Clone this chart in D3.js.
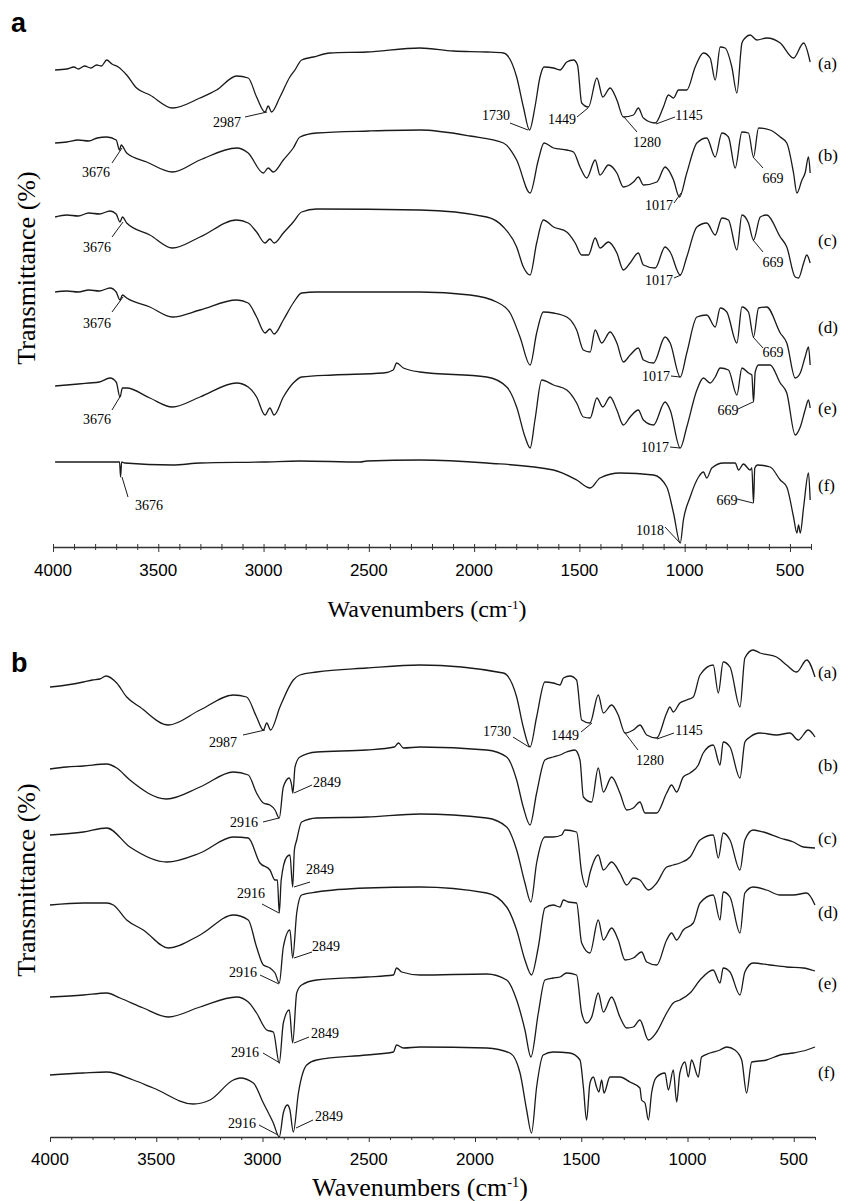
<!DOCTYPE html>
<html>
<head>
<meta charset="utf-8">
<script src="https://cdn.jsdelivr.net/npm/d3@7"></script>
<style>
  body { margin: 0; background: #fff; }
  svg { display: block; }
</style>
</head>
<body>
<script>
// FTIR spectra, two panels (a, b), six stacked traces each
var w = 845, h = 1201;

// tick labels of the wavenumber axis
var tickLabels = [4000, 3500, 3000, 2500, 2000, 1500, 1000, 500];
var seriesNames = ["(a)", "(b)", "(c)", "(d)", "(e)", "(f)"];

// panel a spectra: [wavenumber, transmittance (a.u., stacked)]
var specA_a = [[3990,480],[3935,481],[3900,483],[3880,481],[3850,484],[3820,482],[3793,485],[3770,484],[3745,490],[3720,486],[3690,483],[3650,475],[3603,462],[3540,455],[3433,442],[3302,452],[3223,460],[3128,474],[3073,472],[3033,453],[2993,438],[2978,444],[2962,438],[2922,453],[2875,473],[2851,480],[2819,490],[2764,493],[2685,497],[2511,498],[2257,502],[2099,499],[1940,498],[1861,497],[1798,473],[1766,443],[1737,420],[1711,443],[1687,473],[1668,483],[1623,482],[1592,480],[1560,488],[1528,490],[1509,485],[1489,447],[1457,443],[1417,472],[1389,453],[1354,462],[1322,450],[1291,433],[1243,435],[1220,442],[1196,432],[1140,427],[1101,443],[1077,455],[1053,452],[1029,460],[990,460],[950,483],[911,497],[879,492],[855,470],[831,503],[808,502],[776,483],[752,457],[728,507],[713,512],[689,515],[657,510],[610,512],[546,507],[483,492],[435,507],[404,488]];
var specA_b = [[3990,407],[3935,408],[3880,410],[3830,409],[3790,412],[3745,413],[3700,410],[3684,400],[3676,405],[3650,397],[3555,388],[3433,378],[3302,390],[3128,402],[3073,397],[3001,377],[2978,382],[2954,378],[2906,390],[2859,402],[2827,413],[2748,417],[2500,419],[2257,420],[2019,414],[1861,407],[1798,390],[1734,357],[1695,390],[1668,407],[1623,402],[1560,400],[1528,398],[1497,383],[1465,372],[1425,390],[1402,375],[1362,385],[1322,377],[1291,363],[1243,368],[1220,373],[1196,365],[1132,368],[1093,383],[1077,380],[1053,370],[1025,353],[990,377],[942,407],[895,412],[855,393],[823,417],[792,413],[760,382],[728,418],[697,417],[673,393],[649,422],[594,420],[546,413],[515,407],[483,377],[467,357],[443,370],[428,377],[412,393],[404,377]];
var specA_c = [[3990,333],[3935,335],[3880,334],[3830,337],[3780,336],[3729,339],[3700,336],[3682,328],[3670,333],[3650,327],[3540,315],[3433,302],[3302,313],[3128,330],[3073,327],[3033,318],[2993,307],[2970,311],[2950,307],[2906,317],[2859,328],[2819,338],[2748,341],[2257,340],[1940,333],[1861,323],[1798,303],[1766,283],[1734,275],[1703,307],[1671,330],[1623,323],[1560,318],[1520,307],[1489,295],[1457,295],[1425,312],[1402,302],[1362,308],[1322,297],[1291,280],[1259,287],[1220,297],[1196,285],[1140,282],[1093,303],[1069,298],[1021,275],[990,293],[942,323],[895,327],[855,315],[823,332],[792,330],[752,300],[728,335],[697,327],[673,310],[641,333],[610,335],[546,313],[515,303],[475,273],[459,272],[435,287],[420,295],[404,287]];
var specA_d = [[3990,258],[3935,259],[3880,258],[3830,260],[3780,259],[3729,262],[3700,258],[3682,250],[3670,255],[3650,252],[3540,243],[3433,233],[3302,240],[3128,250],[3073,247],[3033,233],[2993,217],[2970,221],[2950,216],[2906,230],[2859,247],[2819,257],[2748,258],[2257,258],[2019,255],[1893,248],[1829,237],[1782,213],[1734,185],[1703,217],[1671,238],[1623,237],[1560,233],[1513,220],[1481,200],[1449,198],[1425,220],[1394,207],[1354,218],[1322,207],[1291,188],[1259,195],[1220,202],[1196,190],[1148,187],[1093,213],[1069,207],[1021,173],[990,197],[942,233],[895,235],[855,223],[831,242],[800,238],[752,207],[728,243],[697,238],[673,213],[649,242],[610,243],[546,217],[515,207],[475,172],[451,177],[428,193],[412,203],[404,185]];
var specA_e = [[3990,164],[3935,165],[3880,166],[3830,167],[3780,168],[3729,172],[3700,168],[3682,153],[3670,162],[3650,162],[3540,152],[3433,143],[3302,153],[3128,167],[3073,163],[3033,153],[2993,135],[2970,142],[2950,135],[2906,153],[2859,167],[2819,173],[2668,175],[2431,177],[2384,180],[2368,187],[2336,182],[2257,178],[1940,173],[1845,163],[1798,143],[1758,113],[1734,102],[1711,130],[1679,170],[1623,165],[1560,160],[1513,147],[1481,133],[1449,132],[1417,152],[1389,143],[1354,153],[1322,140],[1291,125],[1259,133],[1220,140],[1196,130],[1148,125],[1093,148],[1069,140],[1021,102],[990,123],[942,160],[911,172],[879,167],[855,173],[831,182],[792,180],[752,155],[728,182],[697,177],[681,175],[673,148],[665,178],[649,185],[594,185],[546,167],[515,157],[475,115],[451,123],[428,140],[412,150],[404,142]];
var specA_f = [[3990,88],[3800,88],[3700,88],[3684,88],[3679,73],[3674,88],[3660,87],[3433,85],[3300,87],[3000,88],[2827,89],[2540,88],[2510,89],[2257,90],[1940,87],[1623,80],[1513,70],[1449,62],[1402,72],[1307,77],[1148,75],[1085,63],[1053,37],[1021,7],[1006,30],[974,53],[934,73],[911,78],[895,72],[871,82],[816,87],[760,87],[744,80],[721,86],[689,80],[681,82],[673,47],[667,82],[654,85],[594,83],[546,70],[515,63],[483,33],[467,17],[459,25],[451,17],[435,43],[412,77],[404,50]];

// panel b spectra
var specB_a = [[4000,453],[3922,455],[3843,458],[3800,460],[3765,461],[3736,464],[3686,457],[3639,443],[3577,433],[3443,415],[3294,430],[3137,445],[3075,443],[3028,423],[2996,410],[2980,417],[2962,410],[2918,433],[2855,460],[2824,465],[2745,468],[2510,472],[2259,475],[1867,467],[1804,443],[1773,413],[1741,393],[1710,423],[1671,458],[1632,457],[1600,455],[1584,462],[1553,464],[1522,460],[1498,420],[1459,417],[1420,445],[1396,427],[1357,435],[1326,425],[1294,407],[1255,410],[1224,415],[1192,405],[1145,402],[1098,427],[1083,433],[1067,428],[1036,437],[1004,440],[973,443],[941,465],[879,475],[855,447],[832,478],[800,473],[753,433],[730,482],[691,490],[659,487],[581,483],[534,475],[486,468],[439,480],[400,463]];
var specB_b = [[4000,371],[3922,373],[3843,374],[3733,376],[3686,372],[3624,360],[3451,341],[3294,353],[3137,368],[3067,365],[3028,347],[2996,337],[2965,335],[2941,330],[2921,322],[2902,353],[2874,362],[2863,355],[2857,347],[2847,373],[2824,383],[2745,388],[2510,390],[2380,393],[2360,397],[2337,392],[2259,393],[1945,390],[1851,383],[1804,360],[1773,333],[1741,315],[1710,347],[1671,380],[1632,383],[1600,385],[1569,388],[1530,390],[1506,380],[1490,343],[1451,338],[1420,372],[1396,348],[1357,363],[1318,347],[1286,330],[1255,332],[1224,338],[1200,327],[1145,327],[1098,347],[1075,355],[1051,348],[1020,363],[988,367],[949,375],[926,387],[879,395],[847,375],[832,398],[800,393],[753,362],[730,398],[706,403],[659,407],[581,405],[518,407],[479,400],[432,410],[400,403]];
var specB_c = [[4000,305],[3843,308],[3733,312],[3624,293],[3451,278],[3294,287],[3137,303],[3067,302],[3012,277],[2965,270],[2941,260],[2930,260],[2921,227],[2912,260],[2886,283],[2871,285],[2858,253],[2850,290],[2839,300],[2816,318],[2745,322],[2510,323],[2259,326],[1945,322],[1851,313],[1804,290],[1765,257],[1737,238],[1710,277],[1671,303],[1632,303],[1592,305],[1577,310],[1522,308],[1498,267],[1475,253],[1459,267],[1420,285],[1396,270],[1357,278],[1318,267],[1286,255],[1255,262],[1224,260],[1184,250],[1145,257],[1098,273],[1067,275],[1036,277],[988,283],[941,300],[879,305],[855,282],[832,307],[800,300],[753,270],[730,300],[691,310],[643,308],[565,302],[502,298],[455,293],[400,292]];
var specB_d = [[4000,235],[3843,237],[3733,237],[3702,235],[3639,220],[3561,210],[3443,192],[3294,205],[3137,225],[3067,220],[3028,193],[2996,175],[2965,172],[2941,167],[2921,157],[2902,193],[2871,210],[2858,182],[2839,227],[2816,245],[2745,248],[2510,252],[2259,253],[1945,247],[1851,233],[1804,210],[1765,180],[1734,165],[1702,193],[1671,232],[1632,235],[1600,233],[1584,240],[1561,238],[1522,237],[1498,197],[1459,187],[1420,220],[1396,200],[1357,212],[1326,200],[1294,180],[1255,182],[1216,188],[1192,178],[1145,175],[1098,200],[1075,207],[1051,200],[1020,210],[973,217],[941,237],[879,245],[847,220],[832,248],[800,243],[753,207],[730,247],[691,253],[628,250],[565,245],[502,245],[439,247],[400,235]];
var specB_e = [[4000,143],[3843,145],[3733,147],[3670,142],[3561,132],[3443,123],[3294,133],[3122,143],[3067,138],[3028,127],[2980,110],[2949,108],[2921,77],[2902,117],[2874,130],[2858,97],[2839,147],[2816,155],[2745,160],[2510,163],[2384,165],[2369,172],[2345,168],[2259,165],[1945,166],[1851,160],[1804,140],[1765,110],[1737,83],[1702,127],[1671,160],[1632,162],[1600,163],[1569,167],[1522,165],[1498,127],[1475,117],[1451,123],[1420,147],[1396,128],[1357,143],[1318,123],[1286,112],[1255,113],[1224,120],[1184,100],[1145,108],[1098,127],[1067,137],[1036,140],[988,147],[941,160],[879,170],[847,157],[832,172],[800,168],[753,145],[730,168],[691,177],[612,175],[534,173],[455,172],[400,169]];
var specB_f = [[4000,65],[3843,67],[3733,68],[3608,60],[3514,52],[3326,36],[3247,40],[3137,60],[3106,62],[3043,57],[2996,37],[2949,17],[2921,3],[2902,27],[2883,35],[2871,30],[2855,8],[2831,47],[2792,75],[2745,80],[2510,85],[2384,88],[2369,95],[2337,92],[2259,93],[1945,92],[1836,87],[1788,67],[1757,30],[1734,7],[1710,53],[1679,85],[1632,88],[1553,87],[1506,80],[1490,53],[1475,20],[1459,57],[1443,63],[1428,53],[1417,48],[1404,60],[1393,47],[1365,63],[1318,63],[1271,58],[1224,52],[1216,40],[1200,37],[1184,20],[1169,47],[1145,63],[1106,67],[1090,50],[1067,70],[1051,38],[1036,67],[1012,78],[996,63],[981,80],[949,63],[934,83],[894,87],[847,90],[816,93],[777,90],[745,80],[722,47],[698,78],[628,80],[565,85],[502,87],[439,90],[400,93]];

var panelASeries = [specA_a, specA_b, specA_c, specA_d, specA_e, specA_f];
var panelBSeries = [specB_a, specB_b, specB_c, specB_d, specB_e, specB_f];

// peak labels: text, leader line (px), text position (px)
var annotA = [
  {t:"2987", x:227, y:127, l:[245,117,267,112]},
  {t:"1730", x:496, y:120, l:[510,123,528,130]},
  {t:"1449", x:562, y:124, l:[577,117,588,108]},
  {t:"1280", x:647, y:147, l:[637,132,624,117]},
  {t:"1145", x:689, y:120, l:[675,117,656,124]},
  {t:"3676", x:96, y:177, l:[112,163,122,148]},
  {t:"1017", x:659, y:210, l:[674,203,681,193]},
  {t:"669", x:773, y:183, l:[763,168,753,157]},
  {t:"3676", x:97, y:252, l:[112,237,123,222]},
  {t:"1017", x:659, y:285, l:[674,278,681,275]},
  {t:"669", x:773, y:267, l:[763,252,753,240]},
  {t:"3676", x:97, y:328, l:[112,312,123,297]},
  {t:"1017", x:656, y:381, l:[671,376,680,377]},
  {t:"669", x:773, y:357, l:[763,348,753,337]},
  {t:"3676", x:97, y:424, l:[112,410,121,395]},
  {t:"1017", x:655, y:452, l:[670,447,680,448]},
  {t:"669", x:728, y:415, l:[738,409,753,402]},
  {t:"3676", x:149, y:510, l:[128,497,122,477]},
  {t:"669", x:727, y:505, l:[737,499,753,503]},
  {t:"1018", x:650, y:535, l:[665,527,680,543]}
];
var annotB = [
  {t:"2987", x:223, y:747, l:[243,735,265,730]},
  {t:"1730", x:497, y:736, l:[513,737,529,747]},
  {t:"1449", x:565, y:740, l:[581,732,592,723]},
  {t:"1280", x:650, y:765, l:[638,750,625,733]},
  {t:"1145", x:689, y:735, l:[674,733,657,739]},
  {t:"2849", x:327, y:787, l:[312,785,294,793]},
  {t:"2916", x:244, y:827, l:[263,822,279,818]},
  {t:"2849", x:320, y:874, l:[310,882,294,887]},
  {t:"2916", x:251, y:898, l:[262,904,279,913]},
  {t:"2849", x:326, y:951, l:[312,952,294,958]},
  {t:"2916", x:243, y:977, l:[260,975,279,984]},
  {t:"2849", x:325, y:1038, l:[309,1037,294,1043]},
  {t:"2916", x:245, y:1057, l:[263,1053,280,1063]},
  {t:"2849", x:329, y:1121, l:[313,1120,296,1128]},
  {t:"2916", x:242, y:1128, l:[259,1125,278,1135]}
];

var svg = d3.select("body")
  .append("svg")
  .attr("width", w)
  .attr("height", h)
  .attr("class", "container");

var serif = "'Liberation Serif', 'Times New Roman', serif";
var sans = "'Liberation Sans', Arial, sans-serif";

// one panel
function drawPanel(cfg) {
  var x = d3.scaleLinear().domain([4000, 400]).range([cfg.x0, cfg.x1]);
  var y = d3.scaleLinear().domain([0, 520]).range([cfg.base, cfg.base - 520]);
  var g = svg.append("g").attr("class", "panel");

  var line = d3.line()
    .curve(d3.curveMonotoneX)
    .x(function(d){ return x(d[0]); })
    .y(function(d){ return y(d[1]); });

  g.selectAll(".spec")
    .data(cfg.series)
    .enter()
    .append("path")
    .attr("class", "spec")
    .attr("d", line)
    .attr("fill", "none")
    .attr("stroke", "#1a1a1a")
    .attr("stroke-width", 1.3)
    .attr("stroke-linejoin", "round");

  // axis
  var axis = d3.axisBottom(x)
    .tickValues(d3.range(400, 4001, 100))
    .tickSize(0)
    .tickFormat("");
  var ax = g.append("g")
    .attr("transform", "translate(0," + cfg.axisY + ")")
    .call(axis);
  ax.select(".domain").attr("stroke", "#333").attr("stroke-width", 1.6);
  ax.selectAll(".tick line")
    .attr("stroke", "#333")
    .attr("y1", function(d){ return cfg.tickUp ? -3 : 0; })
    .attr("y2", function(d){ return d % 500 === 0 ? 5 : 3; });

  g.selectAll(".tlab")
    .data(tickLabels)
    .enter()
    .append("text")
    .attr("class", "tlab")
    .attr("x", function(d){ return x(d); })
    .attr("y", cfg.labY)
    .attr("text-anchor", "middle")
    .style("font-family", sans)
    .style("font-size", "17px")
    .text(function(d){ return d; });

  var title = g.append("text")
    .attr("x", cfg.titleX)
    .attr("y", cfg.titleY)
    .attr("text-anchor", "middle")
    .style("font-family", serif)
    .style("font-size", cfg.titleSize + "px");
  title.append("tspan").text("Wavenumbers (cm");
  title.append("tspan").attr("dy", -cfg.titleSize * 0.35).style("font-size", (cfg.titleSize * 0.55) + "px").text("-1");
  title.append("tspan").attr("dy", cfg.titleSize * 0.35).text(")");

  g.append("text")
    .attr("transform", "translate(" + 35 + "," + cfg.yTitleY + ") rotate(-90)")
    .attr("text-anchor", "middle")
    .style("font-family", serif)
    .style("font-size", "26px")
    .text("Transmittance (%)");

  g.append("text")
    .attr("x", 11)
    .attr("y", cfg.letterY)
    .style("font-family", sans)
    .style("font-weight", "bold")
    .style("font-size", "27px")
    .text(cfg.letter);

  g.selectAll(".slab")
    .data(seriesNames)
    .enter()
    .append("text")
    .attr("class", "slab")
    .attr("x", 818)
    .attr("y", function(d, i){ return cfg.labelYs[i]; })
    .style("font-family", serif)
    .style("font-size", "17px")
    .text(function(d){ return d; });

  var an = g.selectAll(".ann")
    .data(cfg.annot)
    .enter()
    .append("g")
    .attr("class", "ann");
  an.append("line")
    .attr("x1", function(d){ return d.l[0]; })
    .attr("y1", function(d){ return d.l[1]; })
    .attr("x2", function(d){ return d.l[2]; })
    .attr("y2", function(d){ return d.l[3]; })
    .attr("stroke", "#1a1a1a")
    .attr("stroke-width", 1);
  an.append("text")
    .attr("x", function(d){ return d.x; })
    .attr("y", function(d){ return d.y; })
    .attr("text-anchor", "middle")
    .style("font-family", serif)
    .style("font-size", "14px")
    .text(function(d){ return d.t; });
}

drawPanel({
  series: panelASeries, x0: 53, x1: 811, base: 550, axisY: 547, tickUp: true,
  labY: 576, titleX: 427, titleY: 617, titleSize: 24, yTitleY: 268,
  letter: "a", letterY: 32, labelYs: [69, 161, 246, 333, 414, 491], annot: annotA
});
drawPanel({
  series: panelBSeries, x0: 50, x1: 815, base: 1140, axisY: 1137, tickUp: false,
  labY: 1165, titleX: 420, titleY: 1196, titleSize: 26, yTitleY: 880,
  letter: "b", letterY: 672, labelYs: [678, 771, 844, 918, 989, 1078], annot: annotB
});
</script>
</body>
</html>
